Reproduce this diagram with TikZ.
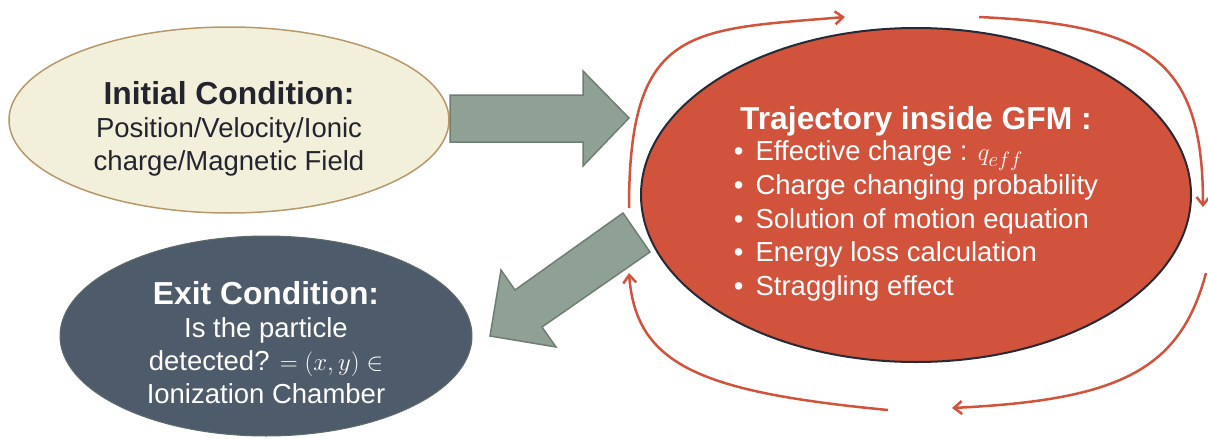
\documentclass[tikz,border=0pt]{standalone}
\usepackage{fontspec}
\setmainfont{Liberation Sans}
\usetikzlibrary{arrows.meta,shapes.geometric}
\definecolor{gfmred}{HTML}{D1533C}
\definecolor{gfmline}{HTML}{262A36}
\definecolor{cream}{HTML}{F2F0DB}
\definecolor{tan}{HTML}{B8976B}
\definecolor{slate}{HTML}{4D5B6A}
\definecolor{slateline}{HTML}{5E6C6C}
\definecolor{sage}{HTML}{8FA094}
\definecolor{sageline}{HTML}{6E7E72}
\definecolor{ink}{HTML}{24242E}
\newcommand{\hd}{\fontsize{31.8}{35}\bfseries}
\newcommand{\bd}{\fontsize{27.5}{33}\selectfont}
\renewcommand{\arraystretch}{1.02}

\begin{document}
\begin{tikzpicture}[x=1pt,y=-1pt,font=\bd,
 box/.style={ellipse,inner sep=0pt,align=center},
 cyc/.style={gfmred,line width=2.5pt,-{Straight Barb[length=8pt,width=13pt]}},
 fat/.style={fill=sage,draw=sageline,line width=1.5pt,line join=miter}]
\useasboundingbox (0,0) rectangle (1208,439);
% the three stages
\node[box,fill=cream,draw=tan,line width=1.5pt,text=ink,minimum width=440pt,minimum height=186pt] (init) at (229,120)
 {\rule{0pt}{41pt}{\hd Initial Condition:}\\Position/Velocity/Ionic\\charge/Magnetic Field};
\node[box,fill=slate,draw=slateline,line width=1pt,text=white,minimum width=412pt,minimum height=200pt] (exit) at (266,336)
 {\rule{0pt}{37pt}{\hd Exit Condition:}\\Is the particle\\detected? $=(x,y)\in$\\Ionization Chamber};
\node[box,fill=gfmred,draw=gfmline,line width=2pt,text=white,minimum width=550pt,minimum height=334pt] (gfm) at (916,195)
 {\rule{0pt}{45pt}{\hd Trajectory inside GFM :}\\
 \begin{tabular}{@{}l@{\hspace{12pt}}l@{}}
 • & Effective charge : $q_{eff}$\\
 • & Charge changing probability\\
 • & Solution of motion equation\\
 • & Energy loss calculation\\
 • & Straggling effect
 \end{tabular}};
% block arrows
\draw[fat] (450,95) -- (583,95) -- (583,71) -- (629,118) -- (583,166) -- (583,142) -- (450,142) -- cycle;
\draw[fat] (623,213) -- (650,252) -- (542,327) -- (556,347) -- (490,336) -- (501,270) -- (515,290) -- cycle;
% loop round the GFM
\coordinate (l1) at (629,208); \coordinate (l2) at (845,17);
\coordinate (r1) at (979,17); \coordinate (r2) at (1203,207);
\coordinate (b1) at (1206,273); \coordinate (b2) at (952,408);
\coordinate (d1) at (888,410); \coordinate (d2) at (629,273);
\draw[cyc] (l1) .. controls (629,25) and (690,30) .. (l2);
\draw[cyc] (r1) .. controls (1150,25) and (1203,60) .. (r2);
\draw[cyc] (b1) .. controls (1180,370) and (1120,400) .. (b2);
\draw[cyc] (d1) .. controls (700,392) and (636,365) .. (d2);
\end{tikzpicture}
\end{document}
